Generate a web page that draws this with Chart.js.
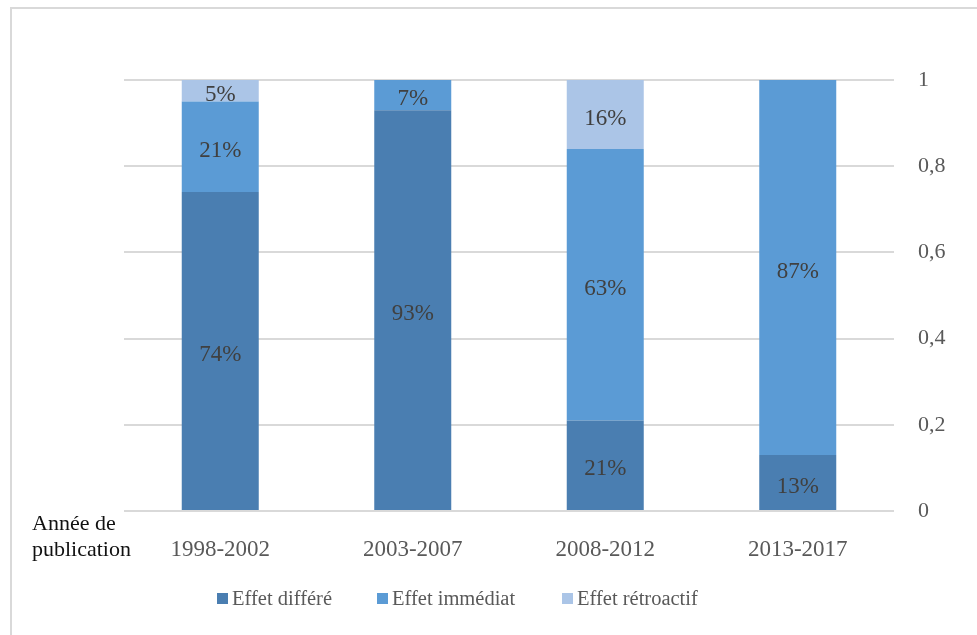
<!DOCTYPE html>
<html>
<head>
<meta charset="utf-8">
<script src="https://cdn.jsdelivr.net/npm/chart.js@4"></script>
<style>
    body { margin: 0; background: #fff; font-family: "Liberation Serif", serif; }
    #wrap { position: relative; width: 977px; height: 635px; overflow: hidden; }
    #frame { position: absolute; left: 10px; top: 7px; width: 1200px; height: 900px;
             border-left: 2px solid #d9d9d9; border-top: 2px solid #d9d9d9; }
    canvas { position: absolute; left: 0; top: 0; }
    #axis-title { position: absolute; left: 32px; top: 510px; font-size: 22px; line-height: 26px; color: #111; }
    #legend { position: absolute; top: 587px; left: 0; width: 100%; height: 30px; }
    .item { position: absolute; top: 0; font-size: 20.5px; color: #595959; white-space: nowrap; }
    .item span.box { display: inline-block; width: 11px; height: 11px; margin-right: 4px; vertical-align: 1px; }
</style>
</head>
<body>
<div id="wrap">
    <div id="frame"></div>
    <canvas id="chart" width="977" height="635"></canvas>
    <div id="axis-title">Année de<br>publication</div>
    <div id="legend"></div>
</div>
<script>
// data
const periods = ['1998-2002', '2003-2007', '2008-2012', '2013-2017'];
const differe = [0.74, 0.93, 0.21, 0.13];
const immediat = [0.21, 0.07, 0.63, 0.87];
const retroactif = [0.05, 0, 0.16, 0];
const seriesNames = ['Effet différé', 'Effet immédiat', 'Effet rétroactif'];
const seriesColors = ['#4a7eb1', '#5b9bd5', '#abc5e7'];
const yTicks = [0, 0.2, 0.4, 0.6, 0.8, 1];

const font = 'Liberation Serif';

// percentage labels in the middle of each segment
const segmentLabels = {
    id: 'segmentLabels',
    afterDatasetsDraw(chart) {
        const ctx = chart.ctx;
        ctx.save();
        ctx.font = '23px "' + font + '"';
        ctx.fillStyle = '#404040';
        ctx.textAlign = 'center';
        ctx.textBaseline = 'middle';
        chart.data.datasets.forEach((ds, i) => {
            const meta = chart.getDatasetMeta(i);
            meta.data.forEach((bar, j) => {
                const v = ds.data[j];
                if (!v) return;
                const mid = (bar.y + bar.base) / 2;
                ctx.fillText(Math.round(v * 100) + '%', bar.x, mid + 4);
            });
        });
        ctx.restore();
    }
};

const ctx = document.getElementById('chart').getContext('2d');
const chart = new Chart(ctx, {
    type: 'bar',
    data: {
        labels: periods,
        datasets: [
            { label: seriesNames[0], data: differe, backgroundColor: seriesColors[0] },
            { label: seriesNames[1], data: immediat, backgroundColor: seriesColors[1] },
            { label: seriesNames[2], data: retroactif, backgroundColor: seriesColors[2] }
        ]
    },
    options: {
        responsive: false,
        animation: false,
        layout: { padding: { left: 124, right: 23, top: 80, bottom: 74 } },
        datasets: { bar: { barPercentage: 0.4, categoryPercentage: 1 } },
        plugins: { legend: { display: false }, tooltip: { enabled: false } },
        scales: {
            x: {
                stacked: true,
                grid: { display: false },
                border: { display: false },
                ticks: { color: '#595959', font: { family: font, size: 23 }, padding: 17 },
                afterFit(s) { s.height = 50; }
            },
            y: {
                stacked: true,
                position: 'right',
                min: 0, max: 1,
                afterBuildTicks(s) { s.ticks = yTicks.map(v => ({ value: v })); },
                grid: { color: '#d9d9d9', lineWidth: 2, drawTicks: false },
                border: { display: false },
                ticks: {
                    color: '#595959',
                    font: { family: font, size: 22 },
                    padding: 24,
                    callback: v => String(v).replace('.', ',')
                },
                afterFit(s) { s.width = 60; }
            }
        }
    },
    plugins: [segmentLabels]
});

// legend laid out like the original
const legendX = [217, 377, 562];
const legend = document.getElementById('legend');
seriesNames.forEach((name, i) => {
    const it = document.createElement('div');
    it.className = 'item';
    it.style.left = legendX[i] + 'px';
    it.innerHTML = '<span class="box" style="background:' + seriesColors[i] + '"></span>' + name;
    legend.appendChild(it);
});
</script>
</body>
</html>
